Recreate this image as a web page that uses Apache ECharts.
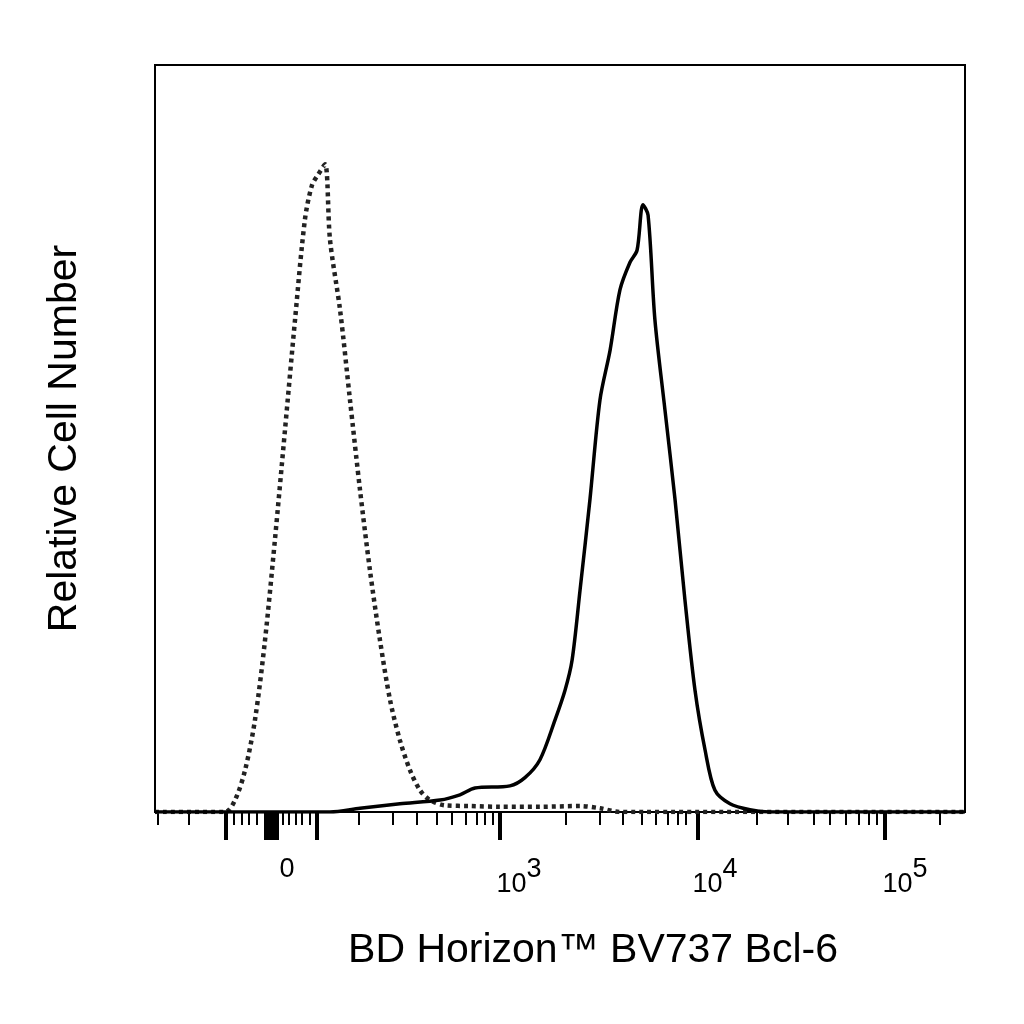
<!DOCTYPE html><html><head><meta charset="utf-8"><script src="https://cdn.jsdelivr.net/npm/echarts@6/dist/echarts.min.js"></script></head><body style="margin:0"><div id="c" style="width:1024px;height:1024px"></div><script>
const isoX=[1.158,1.526,1.579,1.632,1.684,1.737,1.789,1.842,1.895,1.947,1.984,2.016,2.053,2.079,2.132,2.184,2.237,2.289,2.342,2.395,2.447,2.5,2.553,2.605,2.684,2.816,2.974,3.184,3.395,3.5,3.605,5.421];
const isoY=[0,0,1.6,5.6,12.3,23,36.4,51.1,65.9,79.3,83.9,85.3,86.7,76.6,67.2,55.2,43.1,32.4,23,15,9.6,5.6,2.9,1.6,0.9,0.8,0.7,0.7,0.8,0.5,0,0];
const bclX=[1.158,2.079,2.237,2.447,2.658,2.763,2.842,3.026,3.105,3.184,3.263,3.316,3.353,3.395,3.447,3.5,3.553,3.605,3.658,3.695,3.726,3.753,3.789,3.842,3.895,3.947,4.0,4.053,4.105,4.184,4.289,4.395,5.421];
const bclY=[0,0,0.5,1.1,1.6,2.3,3.2,3.5,4.6,7,12.3,16.3,20.3,29.7,41.8,55.2,61.8,69.9,73.6,75.2,81.3,79.9,65.9,53.8,41.8,28.4,16.3,8.3,2.9,1.1,0.3,0,0];
const minorTicks=[1.174,1.337,1.574,1.616,1.653,1.695,1.832,1.863,1.9,1.932,1.974,2.232,2.411,2.537,2.642,2.721,2.795,2.853,2.895,2.937,3.321,3.5,3.621,3.721,3.795,3.858,3.911,3.953,4.326,4.489,4.626,4.711,4.795,4.863,4.916,4.958,5.289];
const majorTicks=[1.532,1.74,1.76,1.78,1.80,2.011,2.974,4.016,5.0];
const labelPos=[1.853,3.074,4.105,5.105];
const labelText=['0','10{s|3}','10{s|4}','10{s|5}'];
const xTitle='BD Horizon™ BV737 Bcl-6', yTitle='Relative Cell Number';
const pair=(xs,ys)=>xs.map((x,i)=>[x,ys[i]]);
const base={type:'value',min:1.158,max:5.421,splitLine:{show:false},axisLine:{show:false}};
const ch=echarts.init(document.getElementById('c'));
ch.setOption({animation:false,
grid:{left:155,right:59,top:65,bottom:212,show:true,borderColor:'#000',borderWidth:2},
xAxis:[
 Object.assign({},base,{axisTick:{customValues:minorTicks,length:13,lineStyle:{width:2,color:'#000'}},axisLabel:{show:false}}),
 Object.assign({},base,{position:'bottom',axisTick:{customValues:majorTicks,length:28,lineStyle:{width:4,color:'#000'}},
  axisLabel:{customValues:labelPos,margin:44,formatter:v=>labelText[labelPos.indexOf(+v.toFixed(3))]||'',color:'#000',fontFamily:'Liberation Sans',fontSize:27,rich:{s:{fontSize:27,padding:[0,0,30,0],fontFamily:'Liberation Sans'}}},
  name:xTitle,nameLocation:'middle',nameGap:118,nameTextStyle:{fontSize:41,color:'#000',fontFamily:'Liberation Sans',padding:[0,0,0,66]}})
],
yAxis:{type:'value',min:0,max:100,splitLine:{show:false},axisTick:{show:false},axisLabel:{show:false},axisLine:{show:false},
 name:yTitle,nameLocation:'middle',nameGap:70,nameTextStyle:{fontSize:41,color:'#000',fontFamily:'Liberation Sans'}},
series:[
 {type:'line',xAxisIndex:0,data:pair(isoX,isoY),showSymbol:false,smooth:0.3,lineStyle:{color:'#222',width:4.5,type:[4,4]}},
 {type:'line',xAxisIndex:0,data:pair(bclX,bclY),showSymbol:false,smooth:0.3,lineStyle:{color:'#000',width:3.5}}
]});
</script></body></html>
